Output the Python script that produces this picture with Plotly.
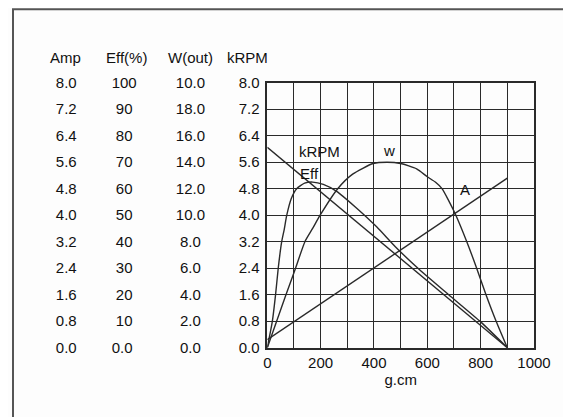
import plotly.graph_objects as go

W, H = 571, 417
OFF = 8  # page body margin offset (px) applied by the browser

# ---------------- data ----------------
torque_speed = [0, 900]            # g.cm
speed_krpm = [6.05, 0.0]           # kRPM

torque_amp = [0, 900]
current_amp = [0.24, 5.12]         # Amp

torque_eff = [0, 19, 31, 41, 54, 63, 73, 90, 110, 140, 170, 210, 260, 330, 410, 480, 570, 680, 800, 900]
eff_pct = [0, 10, 20, 30, 40, 44.4, 50, 56.3, 60, 62.1, 62.5, 61.6, 59, 53.1, 45.6, 38.1, 29.5, 20, 9.75, 0]

torque_w = [0, 35, 70, 106, 141, 170, 198, 264, 320, 397, 450, 500, 560, 600, 630, 655, 680, 707, 748, 785, 820, 858, 900]
w_out = [0, 2.0, 4.0, 6.0, 8.0, 9.0, 10.0, 12.0, 13.1, 13.9, 14.0, 13.9, 13.5, 12.9, 12.5, 12.0, 11.1, 10.0, 8.0, 6.0, 4.0, 2.0, 0]

x_tick_vals = [0, 100, 200, 300, 400, 500, 600, 700, 800, 900, 1000]
x_tick_text = ["0", "", "200", "", "400", "", "600", "", "800", "", "1000"]

krpm_vals = [0, 0.8, 1.6, 2.4, 3.2, 4.0, 4.8, 5.6, 6.4, 7.2, 8.0]
krpm_text = ["0.0", "0.8", "1.6", "2.4", "3.2", "4.0", "4.8", "5.6", "6.4", "7.2", "8.0"]

amp_vals = [0, 0.8, 1.6, 2.4, 3.2, 4.0, 4.8, 5.6, 6.4, 7.2, 8.0]
amp_text = ["0.0", "0.8", "1.6", "2.4", "3.2", "4.0", "4.8", "5.6", "6.4", "7.2", "8.0"]

eff_vals = [0, 10, 20, 30, 40, 50, 60, 70, 80, 90, 100]
eff_text = ["0.0", "10", "20", "30", "40", "50", "60", "70", "80", "90", "100"]

w_vals = [0, 2, 4, 6, 8, 10, 12, 14, 16, 18, 20]
w_text = ["0.0", "2.0", "4.0", "6.0", "8.0", "10.0", "12.0", "14.0", "16.0", "18.0", "10.0"]

headers = ["Amp", "Eff(%)", "W(out)", "kRPM"]

# ---------------- styling helpers ----------------
FONT = "Liberation Sans, Arial, sans-serif"
TXT = "#111111"
LINE = "#2a2a2a"
FS = 15
PS = "\u2008"  # punctuation space (half digit) for centering narrow labels


def pad(labels, widest):
    out = []
    for s in labels:
        n = widest - len(s.replace(".", ""))
        out.append(s + PS * n if n > 0 else s)
    return out


def px(x):
    return (x - OFF) / W


def py(y):
    return 1 - (y - OFF) / H


x0, x1 = 267.3, 534.0
yt, yb = 82.7, 347.7

fig = go.Figure()
lw = 1.4
fig.add_trace(go.Scatter(x=torque_speed, y=speed_krpm, mode="lines", line=dict(color=LINE, width=lw),
                         xaxis="x", yaxis="y", showlegend=False, hoverinfo="skip"))
fig.add_trace(go.Scatter(x=torque_amp, y=current_amp, mode="lines", line=dict(color=LINE, width=lw),
                         xaxis="x", yaxis="y2", showlegend=False, hoverinfo="skip"))
fig.add_trace(go.Scatter(x=torque_eff, y=eff_pct, mode="lines", line=dict(color=LINE, width=lw, shape="spline", smoothing=0.6),
                         xaxis="x", yaxis="y3", showlegend=False, hoverinfo="skip"))
fig.add_trace(go.Scatter(x=torque_w, y=w_out, mode="lines", line=dict(color=LINE, width=lw, shape="spline", smoothing=0.6),
                         xaxis="x", yaxis="y4", showlegend=False, hoverinfo="skip"))

tickfont = dict(family=FONT, size=FS, color=TXT)

common_free = dict(anchor="free", overlaying="y", side="left", showgrid=False, zeroline=False,
                   showline=False, ticks="", tickmode="array", tickfont=tickfont, automargin=False)

fig.update_layout(
    width=W, height=H,
    margin=dict(l=0, r=0, t=0, b=0),
    paper_bgcolor="#fdfdfd", plot_bgcolor="#fdfdfd",
    xaxis=dict(domain=[px(x0), px(x1)], range=[0, 1000], tickmode="array", tickvals=x_tick_vals,
               ticktext=x_tick_text, showgrid=True, gridcolor=LINE, gridwidth=1.4, zeroline=False,
               showline=True, linecolor=LINE, linewidth=1.6, mirror=True, ticks="",
               tickfont=tickfont, automargin=False,
               title=dict(text="g.cm", font=dict(family=FONT, size=FS, color=TXT), standoff=5)),
    yaxis=dict(domain=[py(yb), py(yt)], range=[0, 8], tickmode="array", tickvals=krpm_vals, ticktext=krpm_text,
               showgrid=True, gridcolor=LINE, gridwidth=1.4, zeroline=False, showline=True, linecolor=LINE,
               linewidth=1.6, mirror=True, ticks="", tickfont=tickfont, automargin=False, ticklabelstandoff=3),
    yaxis2=dict(range=[0, 8], tickvals=amp_vals, ticktext=amp_text, position=px(76.7), **common_free),
    yaxis3=dict(range=[0, 100], tickvals=eff_vals, ticktext=pad(eff_text, 3), position=px(136.7), **common_free),
    yaxis4=dict(range=[0, 20], tickvals=w_vals, ticktext=pad(w_text, 3), position=px(205), **common_free),
)

# column headers
for name, cx in zip(headers, [65.5, 126.7, 190, 247.5]):
    fig.add_annotation(text=name, x=px(cx), y=py(57.3), xref="paper", yref="paper", showarrow=False,
                       xanchor="center", yanchor="middle", font=dict(family=FONT, size=FS, color=TXT))

# curve labels
for name, cx, cy, anc in [("kRPM", 296.7, 151, "left"), ("Eff", 297.5, 173.3, "left"),
                          ("w", 388.7, 150.7, "center"), ("A", 464.5, 190, "center")]:
    fig.add_annotation(text=name, x=px(cx), y=py(cy), xref="paper", yref="paper", showarrow=False,
                       xanchor=anc, yanchor="middle", font=dict(family=FONT, size=FS, color=TXT))

# outer frame (top and left edges visible)
fig.add_shape(type="rect", xref="paper", yref="paper", x0=px(13), y0=py(440), x1=px(600), y1=py(9.2),
              line=dict(color="#555555", width=2))

fig.write_html("out.html")
